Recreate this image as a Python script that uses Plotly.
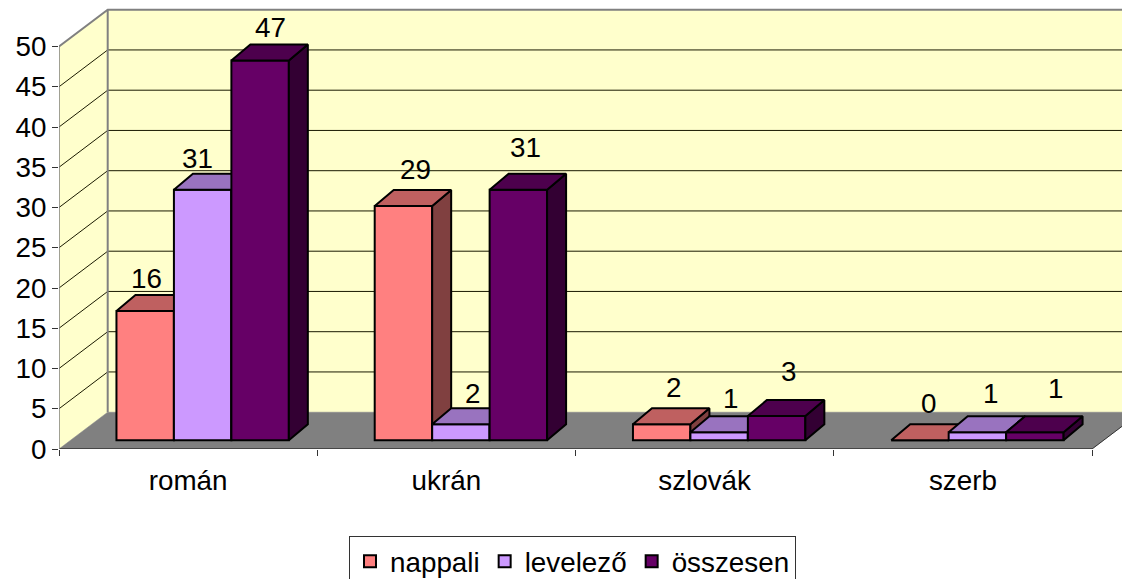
import plotly.graph_objects as go

categories = ["román", "ukrán", "szlovák", "szerb"]
nappali = [16, 29, 2, 0]
levelezo = [31, 2, 1, 1]
osszesen = [47, 31, 3, 1]
series_names = ["nappali", "levelező", "összesen"]
series_values = [nappali, levelezo, osszesen]
y_ticks = [0, 5, 10, 15, 20, 25, 30, 35, 40, 45, 50]

# Styling and geometry
W, H = 1122, 579
LEFT, TOP, BOTTOM_PX = 59, 8, 449
CAT_PX = 258.25
X_MAX = (W - LEFT) / CAT_PX
AX_SCALE = 8.05
BAR_SCALE = 8.08
BAR_ZERO_PX = 440.3
FONT = "Liberation Sans"
FS = 27.8
front_cols = ["#FF8080", "#CC99FF", "#660066"]
top_cols = ["#BF6060", "#9973BF", "#4D004D"]
side_cols = ["#804040", "#664D80", "#330033"]
WALL = "#FFFFCC"
FLOOR = "#808080"
BAR_W = 0.2225
WALL_DX, WALL_DY = 48.7 / CAT_PX, 36.8 / AX_SCALE
BAR_DX, BAR_DY = 19 / CAT_PX, 16 / BAR_SCALE
label_dx = [[1, 12, 12, 9], [-5, 12, 11, 13], [10, 7, 12, 21]]
label_rise = [[33, 36, 37, 37], [31, 31, 34, 39], [33, 42, 45, 44]]

fig = go.Figure()


def poly(xs, ys, fill, line, lw=1, yaxis="y"):
    fig.add_trace(go.Scatter(
        x=xs, y=ys, mode="lines", fill="toself", fillcolor=fill,
        line=dict(color=line, width=lw), showlegend=False, hoverinfo="skip", yaxis=yaxis))


def line(xs, ys, color, lw=1):
    fig.add_trace(go.Scatter(
        x=xs, y=ys, mode="lines", line=dict(color=color, width=lw),
        showlegend=False, hoverinfo="skip"))


top_v = y_ticks[-1]
n = len(categories)
# Walls and floor
poly([0, WALL_DX, WALL_DX, 0, 0], [0, WALL_DY, top_v + WALL_DY, top_v, 0], WALL, WALL, 0.5)
poly([WALL_DX, n + WALL_DX, n + WALL_DX, WALL_DX, WALL_DX],
     [WALL_DY, WALL_DY, top_v + WALL_DY, top_v + WALL_DY, WALL_DY], WALL, WALL, 0.5)
for v in y_ticks[1:-1]:
    line([0, WALL_DX, n + WALL_DX], [v, v + WALL_DY, v + WALL_DY], "#1a1a00", 1)
poly([0, WALL_DX, n + WALL_DX, n, 0], [0, WALL_DY, WALL_DY, 0, 0], FLOOR, FLOOR, 0.5)
line([0, WALL_DX, n + WALL_DX], [top_v, top_v + WALL_DY, top_v + WALL_DY], "#808080", 2)
line([WALL_DX, WALL_DX], [WALL_DY, top_v + WALL_DY], "#808080", 2)
line([n, n + WALL_DX], [0, WALL_DY], "#333333", 1)
line([0, n], [0, 0], "#333333", 1.5)
line([0, 0], [0, top_v], "#808080", 1.5)

# Bars: each series on its own overlay axis so later series paint over earlier ones
for s, vals in enumerate(series_values):
    ya = f"y{s + 2}"
    lefts = [i + BAR_W * (1 + s) for i in range(n)]
    fig.add_trace(go.Bar(
        x=[l + BAR_W / 2 for l in lefts], y=vals, width=BAR_W, name=series_names[s],
        marker=dict(color=front_cols[s], line=dict(color="black", width=2)),
        yaxis=ya, hoverinfo="skip"))
    for l, v in zip(lefts, vals):
        r = l + BAR_W
        if v > 0:
            poly([r, r + BAR_DX, r + BAR_DX, r, r], [0, BAR_DY, v + BAR_DY, v, 0],
                 side_cols[s], "black", 2, ya)
        poly([l, l + BAR_DX, r + BAR_DX, r, l], [v, v + BAR_DY, v + BAR_DY, v, v],
             top_cols[s], "black", 2, ya)
    for i, (l, v) in enumerate(zip(lefts, vals)):
        fig.add_annotation(
            x=l + BAR_W / 2, y=v, xref="x", yref=ya, text=str(v), showarrow=False,
            xanchor="center", yanchor="middle",
            xshift=label_dx[s][i], yshift=label_rise[s][i],
            font=dict(family=FONT, size=FS, color="black"))

plot_h = BOTTOM_PX - TOP
bar_range = [-(BOTTOM_PX - BAR_ZERO_PX) / BAR_SCALE, (BAR_ZERO_PX - TOP) / BAR_SCALE]
overlay = dict(overlaying="y", range=bar_range, visible=False, fixedrange=True)

fig.update_layout(
    width=W, height=H, paper_bgcolor="white", plot_bgcolor="white",
    margin=dict(l=LEFT, r=0, t=TOP, b=H - BOTTOM_PX, pad=0, autoexpand=False),
    font=dict(family=FONT, size=FS, color="black"),
    barmode="overlay",
    xaxis=dict(
        range=[0, X_MAX], showgrid=False, zeroline=False, showline=False,
        tickmode="array", tickvals=[i + 0.5 for i in range(n)], ticktext=categories,
        ticks="outside", ticklen=7, tickcolor="rgba(0,0,0,0)",
        tickfont=dict(family=FONT, size=FS),
        minor=dict(tickmode="array", tickvals=list(range(n + 1)), ticks="outside",
                   ticklen=6, tickcolor="#333333", tickwidth=1, showgrid=False),
        automargin=False, fixedrange=True),
    yaxis=dict(
        range=[0, plot_h / AX_SCALE], showgrid=False, zeroline=False, showline=False,
        tickmode="array", tickvals=y_ticks, ticks="outside", ticklen=6,
        tickcolor="#333333", tickwidth=1, tickfont=dict(family=FONT, size=FS),
        automargin=False, fixedrange=True),
    yaxis2=overlay, yaxis3=overlay, yaxis4=overlay,
    legend=dict(
        orientation="h", xref="paper", yref="paper",
        x=(349 - LEFT) / (W - LEFT), xanchor="left",
        y=1 - (535.7 - TOP) / plot_h, yanchor="top",
        bgcolor="white", bordercolor="#333333", borderwidth=1,
        font=dict(family=FONT, size=FS), itemclick=False, itemdoubleclick=False),
    showlegend=True,
)

fig.write_html("out.html", config={"displayModeBar": False},
               post_script="document.body.style.margin='0';document.body.style.overflow='hidden';")
